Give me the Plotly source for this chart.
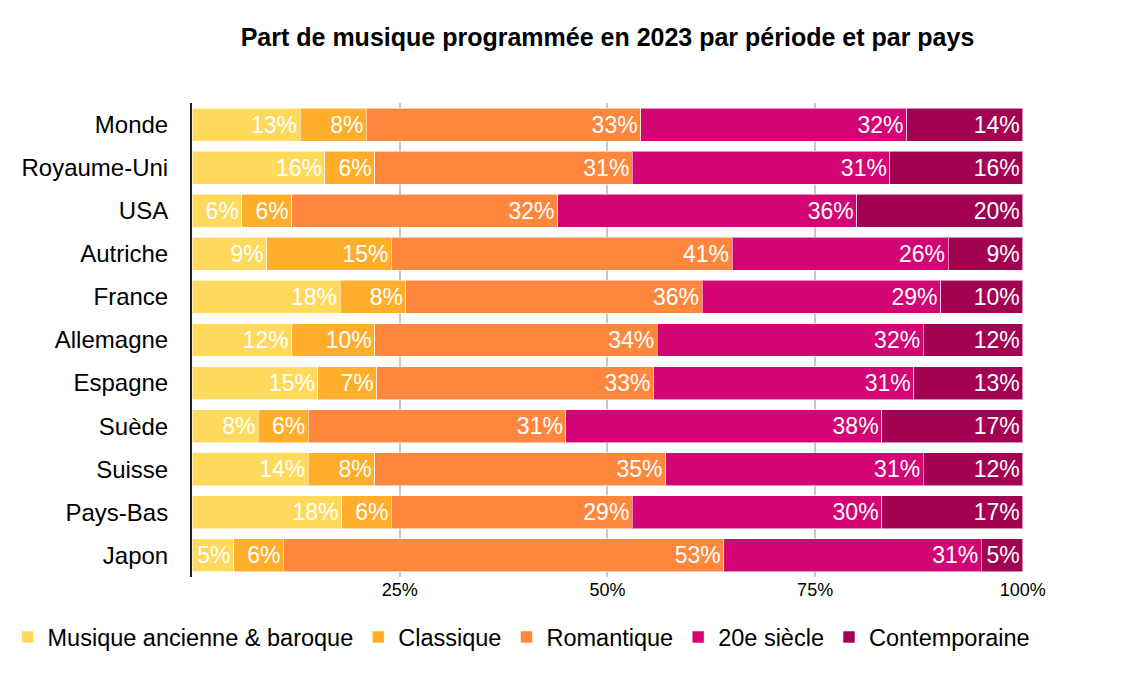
import plotly.graph_objects as go

countries = ["Monde", "Royaume-Uni", "USA", "Autriche", "France", "Allemagne",
             "Espagne", "Suède", "Suisse", "Pays-Bas", "Japon"]

periods = ["Musique ancienne & baroque", "Classique", "Romantique", "20e siècle", "Contemporaine"]

ancienne = [13, 16, 6, 9, 18, 12, 15, 8, 14, 18, 5]
classique = [8, 6, 6, 15, 8, 10, 7, 6, 8, 6, 6]
romantique = [33, 31, 32, 41, 36, 34, 33, 31, 35, 29, 53]
vingtieme = [32, 31, 36, 26, 29, 32, 31, 38, 31, 30, 31]
contemporaine = [14, 16, 20, 9, 10, 12, 13, 17, 12, 17, 5]

colors = ["#FFD95C", "#FFAE2B", "#FF873D", "#D30473", "#A10352"]

series = [ancienne, classique, romantique, vingtieme, contemporaine]

FONT = "Liberation Sans, Arial, sans-serif"

fig = go.Figure()
for name, vals, col in zip(periods, series, colors):
    fig.add_trace(go.Bar(
        y=countries, x=vals, name=name, orientation="h",
        marker=dict(color=col, line=dict(color="rgba(255,255,255,0.55)", width=1)),
        text=[f"{v}%" for v in vals],
        textposition="inside", insidetextanchor="end",
        textfont=dict(color="white", size=23, family=FONT),
        cliponaxis=False,
    ))

fig.update_layout(
    barmode="stack", barnorm="percent", bargap=0.235,
    width=1125, height=680,
    margin=dict(l=192, r=102, t=103, b=103, autoexpand=False),
    paper_bgcolor="white", plot_bgcolor="white",
    font=dict(family=FONT, color="black"),
    uniformtext=dict(minsize=23, mode="show"),
    title=dict(text="<b>Part de musique programmée en 2023 par période et par pays</b>",
               x=0.54, xanchor="center", y=0.945, yanchor="middle",
               font=dict(size=25, family=FONT, color="black")),
    legend=dict(orientation="h", x=-0.222, xanchor="left",
                y=-0.127, yanchor="middle",
                font=dict(size=23.5, family=FONT, color="black"),
                traceorder="normal", itemclick=False),
    xaxis=dict(range=[0, 100.02], tickvals=[25, 50, 75, 100],
               ticktext=["25%", "50%", "75%", "100%"],
               showgrid=True, gridcolor="#c8c8c8", gridwidth=1.5,
               zeroline=False, showline=False, ticks="", automargin=False,
               tickfont=dict(size=18, family=FONT, color="black")),
    yaxis=dict(autorange="reversed", showline=True, linecolor="#222222", linewidth=2,
               ticks="", ticklabelstandoff=17, showgrid=False, automargin=False,
               tickfont=dict(size=24, family=FONT, color="black")),
)

fig.write_html("out.html")
